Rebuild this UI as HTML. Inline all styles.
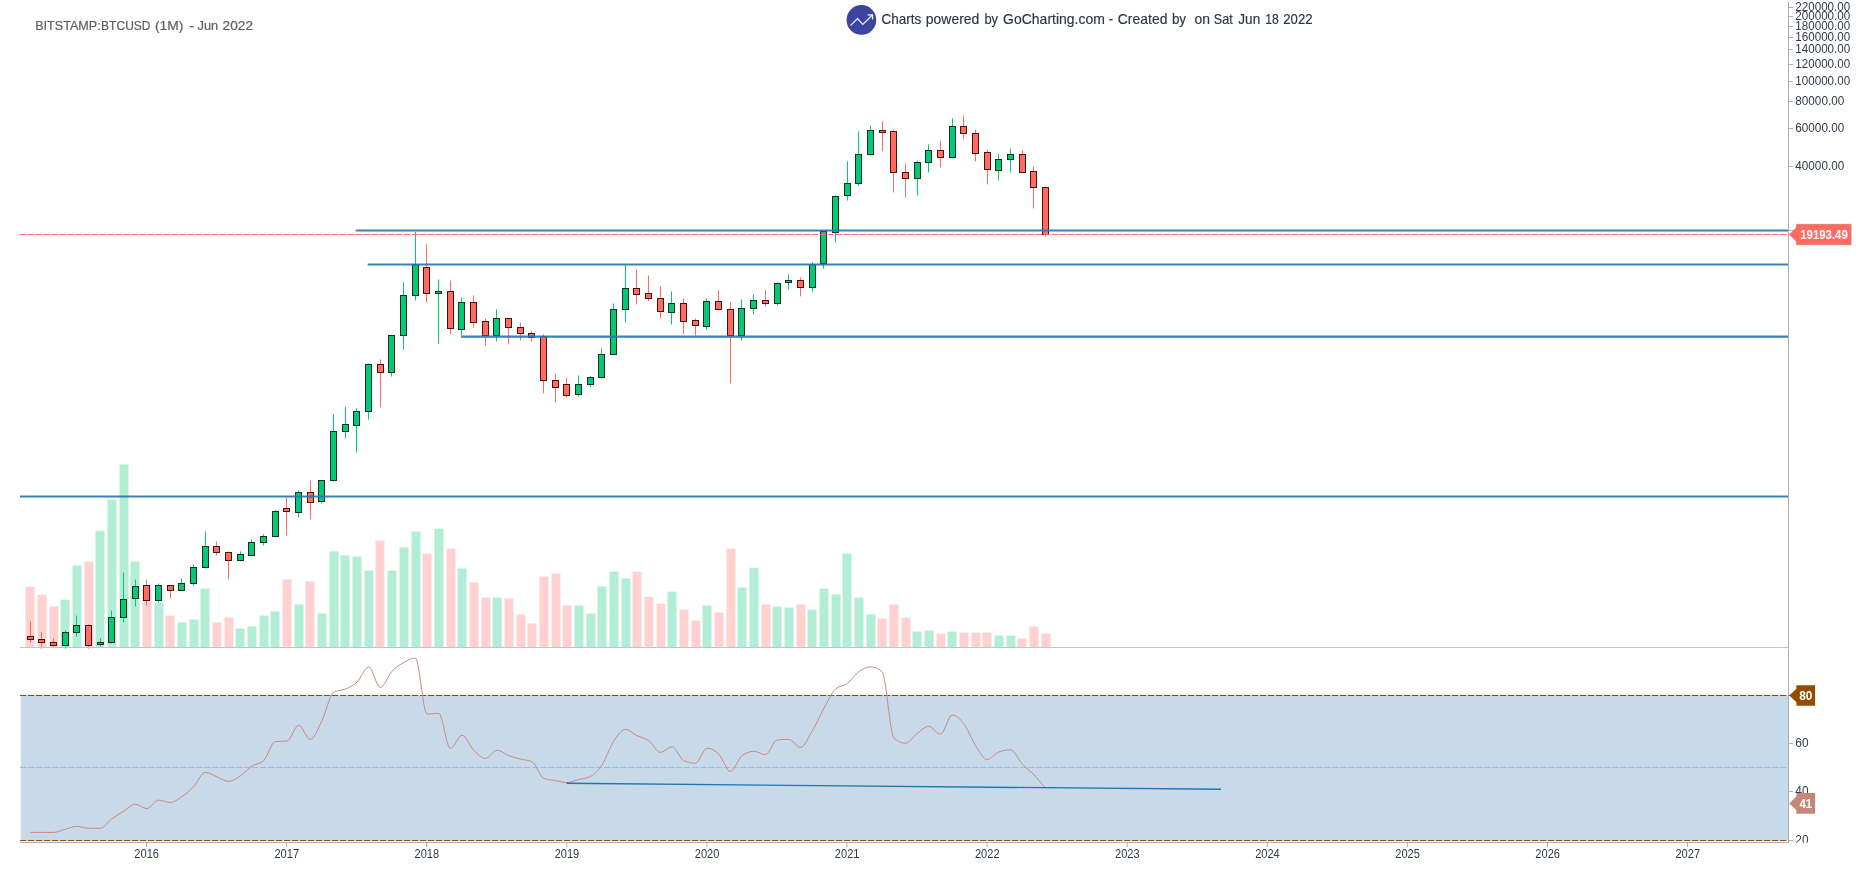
<!DOCTYPE html>
<html><head><meta charset="utf-8"><title>BTCUSD 1M</title>
<style>html,body{margin:0;padding:0;background:#fff;overflow:hidden}body{width:1863px;height:876px;font-family:"Liberation Sans",sans-serif}</style>
</head><body>
<svg width="1863" height="876" viewBox="0 0 1863 876" style="display:block;will-change:transform">
<rect x="0" y="0" width="1863" height="876" fill="#ffffff"/>
<rect x="20.8" y="695.5" width="1767.2" height="145" fill="#c8d9ea"/>
<g shape-rendering="auto"><rect x="25.5" y="586.83" width="9" height="60.37" fill="#ffd1cf"/><rect x="37.5" y="594.71" width="9" height="52.49" fill="#ffd1cf"/><rect x="49.5" y="606.53" width="9" height="40.67" fill="#ffd1cf"/><rect x="60.5" y="599.67" width="9" height="47.53" fill="#b2eed5"/><rect x="72.5" y="565.59" width="9" height="81.61" fill="#b2eed5"/><rect x="84.5" y="561.65" width="9" height="85.55" fill="#ffd1cf"/><rect x="95.5" y="530.83" width="9" height="116.37" fill="#b2eed5"/><rect x="107.5" y="499.6" width="9" height="147.6" fill="#b2eed5"/><rect x="119.5" y="464.4" width="9" height="182.8" fill="#b2eed5"/><rect x="130.5" y="561.65" width="9" height="85.55" fill="#b2eed5"/><rect x="142.5" y="589.06" width="9" height="58.14" fill="#ffd1cf"/><rect x="154.5" y="602.59" width="9" height="44.61" fill="#b2eed5"/><rect x="165.5" y="615.6" width="9" height="31.6" fill="#ffd1cf"/><rect x="177.5" y="622.45" width="9" height="24.75" fill="#b2eed5"/><rect x="189.5" y="619.54" width="9" height="27.66" fill="#b2eed5"/><rect x="200.5" y="588.54" width="9" height="58.66" fill="#b2eed5"/><rect x="212.5" y="622.45" width="9" height="24.75" fill="#ffd1cf"/><rect x="224.5" y="617.49" width="9" height="29.71" fill="#ffd1cf"/><rect x="235.5" y="628.45" width="9" height="18.75" fill="#b2eed5"/><rect x="247.5" y="626.39" width="9" height="20.81" fill="#b2eed5"/><rect x="259.5" y="615.6" width="9" height="31.6" fill="#b2eed5"/><rect x="270.5" y="611.49" width="9" height="35.71" fill="#b2eed5"/><rect x="282.5" y="579.47" width="9" height="67.73" fill="#ffd1cf"/><rect x="294.5" y="604.47" width="9" height="42.73" fill="#b2eed5"/><rect x="305.5" y="581.52" width="9" height="65.68" fill="#ffd1cf"/><rect x="317.5" y="613.55" width="9" height="33.65" fill="#b2eed5"/><rect x="329.5" y="551.38" width="9" height="95.82" fill="#b2eed5"/><rect x="340.5" y="555.49" width="9" height="91.71" fill="#b2eed5"/><rect x="352.5" y="556.52" width="9" height="90.68" fill="#b2eed5"/><rect x="364.5" y="570.56" width="9" height="76.64" fill="#b2eed5"/><rect x="375.5" y="540.59" width="9" height="106.61" fill="#ffd1cf"/><rect x="387.5" y="570.56" width="9" height="76.64" fill="#b2eed5"/><rect x="399.5" y="547.44" width="9" height="99.76" fill="#b2eed5"/><rect x="411.5" y="531.51" width="9" height="115.69" fill="#b2eed5"/><rect x="422.5" y="553.61" width="9" height="93.59" fill="#ffd1cf"/><rect x="434.5" y="528.6" width="9" height="118.6" fill="#b2eed5"/><rect x="446.5" y="548.64" width="9" height="98.56" fill="#ffd1cf"/><rect x="457.5" y="568.5" width="9" height="78.7" fill="#b2eed5"/><rect x="469.5" y="582.55" width="9" height="64.65" fill="#ffd1cf"/><rect x="481.5" y="597.62" width="9" height="49.58" fill="#ffd1cf"/><rect x="492.5" y="597.62" width="9" height="49.58" fill="#b2eed5"/><rect x="504.5" y="598.48" width="9" height="48.72" fill="#ffd1cf"/><rect x="516.5" y="614.4" width="9" height="32.8" fill="#ffd1cf"/><rect x="527.5" y="623.48" width="9" height="23.72" fill="#ffd1cf"/><rect x="539.5" y="576.55" width="9" height="70.65" fill="#ffd1cf"/><rect x="551.5" y="573.64" width="9" height="73.56" fill="#ffd1cf"/><rect x="562.5" y="605.5" width="9" height="41.7" fill="#ffd1cf"/><rect x="574.5" y="605.5" width="9" height="41.7" fill="#b2eed5"/><rect x="586.5" y="613.55" width="9" height="33.65" fill="#b2eed5"/><rect x="597.5" y="586.49" width="9" height="60.71" fill="#b2eed5"/><rect x="609.5" y="571.59" width="9" height="75.61" fill="#b2eed5"/><rect x="621.5" y="578.44" width="9" height="68.76" fill="#b2eed5"/><rect x="632.5" y="571.59" width="9" height="75.61" fill="#ffd1cf"/><rect x="644.5" y="596.76" width="9" height="50.44" fill="#ffd1cf"/><rect x="656.5" y="603.61" width="9" height="43.59" fill="#ffd1cf"/><rect x="667.5" y="591.63" width="9" height="55.57" fill="#b2eed5"/><rect x="679.5" y="609.61" width="9" height="37.59" fill="#ffd1cf"/><rect x="691.5" y="620.57" width="9" height="26.63" fill="#ffd1cf"/><rect x="702.5" y="605.5" width="9" height="41.7" fill="#b2eed5"/><rect x="714.5" y="612.52" width="9" height="34.68" fill="#ffd1cf"/><rect x="726.5" y="548.64" width="9" height="98.56" fill="#ffd1cf"/><rect x="737.5" y="587.51" width="9" height="59.69" fill="#b2eed5"/><rect x="749.5" y="567.65" width="9" height="79.55" fill="#b2eed5"/><rect x="761.5" y="604.47" width="9" height="42.73" fill="#ffd1cf"/><rect x="772.5" y="606.53" width="9" height="40.67" fill="#b2eed5"/><rect x="784.5" y="607.55" width="9" height="39.65" fill="#b2eed5"/><rect x="796.5" y="604.47" width="9" height="42.73" fill="#ffd1cf"/><rect x="807.5" y="609.61" width="9" height="37.59" fill="#b2eed5"/><rect x="819.5" y="588.54" width="9" height="58.66" fill="#b2eed5"/><rect x="831.5" y="594.54" width="9" height="52.66" fill="#b2eed5"/><rect x="842.5" y="553.61" width="9" height="93.59" fill="#b2eed5"/><rect x="854.5" y="597.62" width="9" height="49.58" fill="#b2eed5"/><rect x="866.5" y="614.4" width="9" height="32.8" fill="#b2eed5"/><rect x="877.5" y="618.57" width="9" height="28.63" fill="#ffd1cf"/><rect x="889.5" y="604.53" width="9" height="42.67" fill="#ffd1cf"/><rect x="901.5" y="617.54" width="9" height="29.66" fill="#ffd1cf"/><rect x="912.5" y="631.59" width="9" height="15.61" fill="#b2eed5"/><rect x="924.5" y="630.56" width="9" height="16.64" fill="#b2eed5"/><rect x="936.5" y="633.64" width="9" height="13.56" fill="#ffd1cf"/><rect x="947.5" y="631.59" width="9" height="15.61" fill="#b2eed5"/><rect x="959.5" y="632.62" width="9" height="14.58" fill="#ffd1cf"/><rect x="971.5" y="632.62" width="9" height="14.58" fill="#ffd1cf"/><rect x="982.5" y="632.62" width="9" height="14.58" fill="#ffd1cf"/><rect x="994.5" y="635.53" width="9" height="11.67" fill="#b2eed5"/><rect x="1006.5" y="635.53" width="9" height="11.67" fill="#b2eed5"/><rect x="1017.5" y="638.44" width="9" height="8.76" fill="#ffd1cf"/><rect x="1029.5" y="626.62" width="9" height="20.58" fill="#ffd1cf"/><rect x="1041.5" y="633.64" width="9" height="13.56" fill="#ffd1cf"/></g>
<g><line x1="30.5" y1="621.25" x2="30.5" y2="642.49" stroke="#ff6a61" stroke-width="1"/><rect x="27.5" y="636.5" width="6" height="3" fill="#ff6a61" stroke="#471310" stroke-width="1"/><line x1="41.5" y1="632.39" x2="41.5" y2="648.66" stroke="#ff6a61" stroke-width="1"/><rect x="38.5" y="639.5" width="6" height="3" fill="#ff6a61" stroke="#471310" stroke-width="1"/><line x1="53.5" y1="638.38" x2="53.5" y2="646.6" stroke="#ff6a61" stroke-width="1"/><rect x="50.5" y="642.5" width="6" height="3" fill="#ff6a61" stroke="#471310" stroke-width="1"/><line x1="65.5" y1="630.5" x2="65.5" y2="648.66" stroke="#02c977" stroke-width="1"/><rect x="62.5" y="632.5" width="6" height="13" fill="#02c977" stroke="#11301f" stroke-width="1"/><line x1="76.5" y1="615.6" x2="76.5" y2="636.5" stroke="#02c977" stroke-width="1"/><rect x="73.5" y="625.5" width="6" height="7" fill="#02c977" stroke="#11301f" stroke-width="1"/><line x1="88.5" y1="624.51" x2="88.5" y2="648.66" stroke="#ff6a61" stroke-width="1"/><rect x="85.5" y="625.5" width="6" height="20" fill="#ff6a61" stroke="#471310" stroke-width="1"/><line x1="100.5" y1="638.38" x2="100.5" y2="646.6" stroke="#02c977" stroke-width="1"/><rect x="97.5" y="642.5" width="6" height="2" fill="#02c977" stroke="#11301f" stroke-width="1"/><line x1="111.5" y1="610.46" x2="111.5" y2="643.52" stroke="#02c977" stroke-width="1"/><rect x="108.5" y="617.5" width="6" height="25" fill="#02c977" stroke="#11301f" stroke-width="1"/><line x1="123.5" y1="572.44" x2="123.5" y2="622.45" stroke="#02c977" stroke-width="1"/><rect x="120.5" y="599.5" width="6" height="18" fill="#02c977" stroke="#11301f" stroke-width="1"/><line x1="135.5" y1="579.47" x2="135.5" y2="606.53" stroke="#02c977" stroke-width="1"/><rect x="132.5" y="586.5" width="6" height="12" fill="#02c977" stroke="#11301f" stroke-width="1"/><line x1="146.5" y1="579.47" x2="146.5" y2="605.5" stroke="#ff6a61" stroke-width="1"/><rect x="143.5" y="585.5" width="6" height="15" fill="#ff6a61" stroke="#471310" stroke-width="1"/><line x1="158.5" y1="583.4" x2="158.5" y2="602.59" stroke="#02c977" stroke-width="1"/><rect x="155.5" y="585.5" width="6" height="15" fill="#02c977" stroke="#11301f" stroke-width="1"/><line x1="170.5" y1="585.46" x2="170.5" y2="598.48" stroke="#ff6a61" stroke-width="1"/><rect x="167.5" y="585.5" width="6" height="5" fill="#ff6a61" stroke="#471310" stroke-width="1"/><line x1="181.5" y1="578.44" x2="181.5" y2="590.43" stroke="#02c977" stroke-width="1"/><rect x="178.5" y="583.5" width="6" height="7" fill="#02c977" stroke="#11301f" stroke-width="1"/><line x1="193.5" y1="564.39" x2="193.5" y2="585.46" stroke="#02c977" stroke-width="1"/><rect x="190.5" y="567.5" width="6" height="16" fill="#02c977" stroke="#11301f" stroke-width="1"/><line x1="205.5" y1="531.34" x2="205.5" y2="568.5" stroke="#02c977" stroke-width="1"/><rect x="202.5" y="546.5" width="6" height="21" fill="#02c977" stroke="#11301f" stroke-width="1"/><line x1="216.5" y1="541.45" x2="216.5" y2="555.49" stroke="#ff6a61" stroke-width="1"/><rect x="213.5" y="546.5" width="6" height="6" fill="#ff6a61" stroke="#471310" stroke-width="1"/><line x1="228.5" y1="551.38" x2="228.5" y2="579.47" stroke="#ff6a61" stroke-width="1"/><rect x="225.5" y="552.5" width="6" height="8" fill="#ff6a61" stroke="#471310" stroke-width="1"/><line x1="240.5" y1="551.38" x2="240.5" y2="561.48" stroke="#02c977" stroke-width="1"/><rect x="237.5" y="554.5" width="6" height="6" fill="#02c977" stroke="#11301f" stroke-width="1"/><line x1="251.5" y1="539.39" x2="251.5" y2="555.49" stroke="#02c977" stroke-width="1"/><rect x="248.5" y="542.5" width="6" height="13" fill="#02c977" stroke="#11301f" stroke-width="1"/><line x1="263.5" y1="534.25" x2="263.5" y2="545.38" stroke="#02c977" stroke-width="1"/><rect x="260.5" y="536.5" width="6" height="6" fill="#02c977" stroke="#11301f" stroke-width="1"/><line x1="275.5" y1="510.28" x2="275.5" y2="536.31" stroke="#02c977" stroke-width="1"/><rect x="272.5" y="511.5" width="6" height="25" fill="#02c977" stroke="#11301f" stroke-width="1"/><line x1="286.5" y1="497.42" x2="286.5" y2="535.61" stroke="#ff6a61" stroke-width="1"/><rect x="283.5" y="508.5" width="6" height="3" fill="#ff6a61" stroke="#471310" stroke-width="1"/><line x1="298.5" y1="490.4" x2="298.5" y2="517.63" stroke="#02c977" stroke-width="1"/><rect x="295.5" y="492.5" width="6" height="20" fill="#02c977" stroke="#11301f" stroke-width="1"/><line x1="310.5" y1="480.46" x2="310.5" y2="519.34" stroke="#ff6a61" stroke-width="1"/><rect x="307.5" y="492.5" width="6" height="10" fill="#ff6a61" stroke="#471310" stroke-width="1"/><line x1="321.5" y1="480.46" x2="321.5" y2="503.58" stroke="#02c977" stroke-width="1"/><rect x="318.5" y="480.5" width="6" height="21" fill="#02c977" stroke="#11301f" stroke-width="1"/><line x1="333.5" y1="414.36" x2="333.5" y2="481.49" stroke="#02c977" stroke-width="1"/><rect x="330.5" y="431.5" width="6" height="49" fill="#02c977" stroke="#11301f" stroke-width="1"/><line x1="345.5" y1="406.99" x2="345.5" y2="438.5" stroke="#02c977" stroke-width="1"/><rect x="342.5" y="424.5" width="6" height="7" fill="#02c977" stroke="#11301f" stroke-width="1"/><line x1="356.5" y1="408.36" x2="356.5" y2="452.55" stroke="#02c977" stroke-width="1"/><rect x="353.5" y="411.5" width="6" height="14" fill="#02c977" stroke="#11301f" stroke-width="1"/><line x1="368.5" y1="363.38" x2="368.5" y2="419.73" stroke="#02c977" stroke-width="1"/><rect x="365.5" y="364.5" width="6" height="47" fill="#02c977" stroke="#11301f" stroke-width="1"/><line x1="380.5" y1="359.44" x2="380.5" y2="407.22" stroke="#ff6a61" stroke-width="1"/><rect x="377.5" y="364.5" width="6" height="8" fill="#ff6a61" stroke="#471310" stroke-width="1"/><line x1="391.5" y1="335.46" x2="391.5" y2="376.57" stroke="#02c977" stroke-width="1"/><rect x="388.5" y="335.5" width="6" height="37" fill="#02c977" stroke="#11301f" stroke-width="1"/><line x1="403.5" y1="282.37" x2="403.5" y2="349.51" stroke="#02c977" stroke-width="1"/><rect x="400.5" y="295.5" width="6" height="40" fill="#02c977" stroke="#11301f" stroke-width="1"/><line x1="415.5" y1="231.85" x2="415.5" y2="300.53" stroke="#02c977" stroke-width="1"/><rect x="412.5" y="264.5" width="6" height="31" fill="#02c977" stroke="#11301f" stroke-width="1"/><line x1="426.5" y1="244.35" x2="426.5" y2="302.41" stroke="#ff6a61" stroke-width="1"/><rect x="423.5" y="267.5" width="6" height="26" fill="#ff6a61" stroke="#471310" stroke-width="1"/><line x1="438.5" y1="279.46" x2="438.5" y2="343.51" stroke="#02c977" stroke-width="1"/><rect x="435.5" y="291.5" width="6" height="2" fill="#02c977" stroke="#11301f" stroke-width="1"/><line x1="450.5" y1="280.49" x2="450.5" y2="334.09" stroke="#ff6a61" stroke-width="1"/><rect x="447.5" y="291.5" width="6" height="37" fill="#ff6a61" stroke="#471310" stroke-width="1"/><line x1="461.5" y1="297.44" x2="461.5" y2="335.46" stroke="#02c977" stroke-width="1"/><rect x="458.5" y="302.5" width="6" height="27" fill="#02c977" stroke="#11301f" stroke-width="1"/><line x1="473.5" y1="295.39" x2="473.5" y2="327.59" stroke="#ff6a61" stroke-width="1"/><rect x="470.5" y="302.5" width="6" height="20" fill="#ff6a61" stroke="#471310" stroke-width="1"/><line x1="485.5" y1="318.51" x2="485.5" y2="345.57" stroke="#ff6a61" stroke-width="1"/><rect x="482.5" y="321.5" width="6" height="14" fill="#ff6a61" stroke="#471310" stroke-width="1"/><line x1="496.5" y1="309.43" x2="496.5" y2="341.46" stroke="#02c977" stroke-width="1"/><rect x="493.5" y="318.5" width="6" height="17" fill="#02c977" stroke="#11301f" stroke-width="1"/><line x1="508.5" y1="318.51" x2="508.5" y2="344.37" stroke="#ff6a61" stroke-width="1"/><rect x="505.5" y="318.5" width="6" height="9" fill="#ff6a61" stroke="#471310" stroke-width="1"/><line x1="520.5" y1="322.62" x2="520.5" y2="340.43" stroke="#ff6a61" stroke-width="1"/><rect x="517.5" y="327.5" width="6" height="6" fill="#ff6a61" stroke="#471310" stroke-width="1"/><line x1="531.5" y1="331.53" x2="531.5" y2="341.46" stroke="#ff6a61" stroke-width="1"/><rect x="528.5" y="333.5" width="6" height="4" fill="#ff6a61" stroke="#471310" stroke-width="1"/><line x1="543.5" y1="334.39" x2="543.5" y2="393.48" stroke="#ff6a61" stroke-width="1"/><rect x="540.5" y="336.5" width="6" height="44" fill="#ff6a61" stroke="#471310" stroke-width="1"/><line x1="555.5" y1="373.44" x2="555.5" y2="402.56" stroke="#ff6a61" stroke-width="1"/><rect x="552.5" y="380.5" width="6" height="7" fill="#ff6a61" stroke="#471310" stroke-width="1"/><line x1="566.5" y1="377.55" x2="566.5" y2="397.59" stroke="#ff6a61" stroke-width="1"/><rect x="563.5" y="384.5" width="6" height="11" fill="#ff6a61" stroke="#471310" stroke-width="1"/><line x1="578.5" y1="375.5" x2="578.5" y2="396.56" stroke="#02c977" stroke-width="1"/><rect x="575.5" y="384.5" width="6" height="10" fill="#02c977" stroke="#11301f" stroke-width="1"/><line x1="590.5" y1="376.18" x2="590.5" y2="387.49" stroke="#02c977" stroke-width="1"/><rect x="587.5" y="377.5" width="6" height="7" fill="#02c977" stroke="#11301f" stroke-width="1"/><line x1="601.5" y1="348.44" x2="601.5" y2="378.58" stroke="#02c977" stroke-width="1"/><rect x="598.5" y="354.5" width="6" height="23" fill="#02c977" stroke="#11301f" stroke-width="1"/><line x1="613.5" y1="303.4" x2="613.5" y2="354.43" stroke="#02c977" stroke-width="1"/><rect x="610.5" y="309.5" width="6" height="45" fill="#02c977" stroke="#11301f" stroke-width="1"/><line x1="625.5" y1="264.69" x2="625.5" y2="322.41" stroke="#02c977" stroke-width="1"/><rect x="622.5" y="288.5" width="6" height="21" fill="#02c977" stroke="#11301f" stroke-width="1"/><line x1="636.5" y1="269.49" x2="636.5" y2="304.42" stroke="#ff6a61" stroke-width="1"/><rect x="633.5" y="288.5" width="6" height="6" fill="#ff6a61" stroke="#471310" stroke-width="1"/><line x1="648.5" y1="275.48" x2="648.5" y2="301.34" stroke="#ff6a61" stroke-width="1"/><rect x="645.5" y="293.5" width="6" height="5" fill="#ff6a61" stroke="#471310" stroke-width="1"/><line x1="660.5" y1="286.44" x2="660.5" y2="318.47" stroke="#ff6a61" stroke-width="1"/><rect x="657.5" y="298.5" width="6" height="13" fill="#ff6a61" stroke="#471310" stroke-width="1"/><line x1="671.5" y1="291.41" x2="671.5" y2="324.46" stroke="#02c977" stroke-width="1"/><rect x="668.5" y="303.5" width="6" height="9" fill="#02c977" stroke="#11301f" stroke-width="1"/><line x1="683.5" y1="298.43" x2="683.5" y2="334.39" stroke="#ff6a61" stroke-width="1"/><rect x="680.5" y="303.5" width="6" height="18" fill="#ff6a61" stroke="#471310" stroke-width="1"/><line x1="695.5" y1="318.47" x2="695.5" y2="335.42" stroke="#ff6a61" stroke-width="1"/><rect x="692.5" y="320.5" width="6" height="5" fill="#ff6a61" stroke="#471310" stroke-width="1"/><line x1="706.5" y1="298.43" x2="706.5" y2="329.43" stroke="#02c977" stroke-width="1"/><rect x="703.5" y="301.5" width="6" height="25" fill="#02c977" stroke="#11301f" stroke-width="1"/><line x1="718.5" y1="290.38" x2="718.5" y2="310.42" stroke="#ff6a61" stroke-width="1"/><rect x="715.5" y="301.5" width="6" height="8" fill="#ff6a61" stroke="#471310" stroke-width="1"/><line x1="730.5" y1="302.37" x2="730.5" y2="383.38" stroke="#ff6a61" stroke-width="1"/><rect x="727.5" y="309.5" width="6" height="26" fill="#ff6a61" stroke="#471310" stroke-width="1"/><line x1="741.5" y1="299.46" x2="741.5" y2="340.56" stroke="#02c977" stroke-width="1"/><rect x="738.5" y="308.5" width="6" height="27" fill="#02c977" stroke="#11301f" stroke-width="1"/><line x1="753.5" y1="294.49" x2="753.5" y2="314.53" stroke="#02c977" stroke-width="1"/><rect x="750.5" y="300.5" width="6" height="8" fill="#02c977" stroke="#11301f" stroke-width="1"/><line x1="765.5" y1="290.38" x2="765.5" y2="306.48" stroke="#ff6a61" stroke-width="1"/><rect x="762.5" y="300.5" width="6" height="3" fill="#ff6a61" stroke="#471310" stroke-width="1"/><line x1="777.5" y1="282.33" x2="777.5" y2="305.45" stroke="#02c977" stroke-width="1"/><rect x="774.5" y="283.5" width="6" height="20" fill="#02c977" stroke="#11301f" stroke-width="1"/><line x1="788.5" y1="274.45" x2="788.5" y2="289.35" stroke="#02c977" stroke-width="1"/><rect x="785.5" y="280.5" width="6" height="2" fill="#02c977" stroke="#11301f" stroke-width="1"/><line x1="800.5" y1="277.36" x2="800.5" y2="296.37" stroke="#ff6a61" stroke-width="1"/><rect x="797.5" y="280.5" width="6" height="7" fill="#ff6a61" stroke="#471310" stroke-width="1"/><line x1="812.5" y1="262.28" x2="812.5" y2="291.62" stroke="#02c977" stroke-width="1"/><rect x="809.5" y="264.5" width="6" height="23" fill="#02c977" stroke="#11301f" stroke-width="1"/><line x1="823.5" y1="231.23" x2="823.5" y2="268.79" stroke="#02c977" stroke-width="1"/><rect x="820.5" y="231.5" width="6" height="32" fill="#02c977" stroke="#11301f" stroke-width="1"/><line x1="835.5" y1="195.43" x2="835.5" y2="242.52" stroke="#02c977" stroke-width="1"/><rect x="832.5" y="196.5" width="6" height="36" fill="#02c977" stroke="#11301f" stroke-width="1"/><line x1="847.5" y1="161.35" x2="847.5" y2="200.56" stroke="#02c977" stroke-width="1"/><rect x="844.5" y="183.5" width="6" height="12" fill="#02c977" stroke="#11301f" stroke-width="1"/><line x1="858.5" y1="131.37" x2="858.5" y2="185.49" stroke="#02c977" stroke-width="1"/><rect x="855.5" y="154.5" width="6" height="29" fill="#02c977" stroke="#11301f" stroke-width="1"/><line x1="870.5" y1="125.38" x2="870.5" y2="155.69" stroke="#02c977" stroke-width="1"/><rect x="867.5" y="130.5" width="6" height="24" fill="#02c977" stroke="#11301f" stroke-width="1"/><line x1="882.5" y1="121.44" x2="882.5" y2="151.41" stroke="#ff6a61" stroke-width="1"/><rect x="879.5" y="130.5" width="6" height="2" fill="#ff6a61" stroke="#471310" stroke-width="1"/><line x1="893.5" y1="129.49" x2="893.5" y2="192.51" stroke="#ff6a61" stroke-width="1"/><rect x="890.5" y="131.5" width="6" height="41" fill="#ff6a61" stroke="#471310" stroke-width="1"/><line x1="905.5" y1="163.57" x2="905.5" y2="197.48" stroke="#ff6a61" stroke-width="1"/><rect x="902.5" y="172.5" width="6" height="6" fill="#ff6a61" stroke="#471310" stroke-width="1"/><line x1="917.5" y1="160.49" x2="917.5" y2="195.43" stroke="#02c977" stroke-width="1"/><rect x="914.5" y="162.5" width="6" height="16" fill="#02c977" stroke="#11301f" stroke-width="1"/><line x1="928.5" y1="144.39" x2="928.5" y2="172.48" stroke="#02c977" stroke-width="1"/><rect x="925.5" y="150.5" width="6" height="12" fill="#02c977" stroke="#11301f" stroke-width="1"/><line x1="940.5" y1="140.45" x2="940.5" y2="167.51" stroke="#ff6a61" stroke-width="1"/><rect x="937.5" y="150.5" width="6" height="7" fill="#ff6a61" stroke="#471310" stroke-width="1"/><line x1="952.5" y1="118.36" x2="952.5" y2="158.43" stroke="#02c977" stroke-width="1"/><rect x="949.5" y="126.5" width="6" height="31" fill="#02c977" stroke="#11301f" stroke-width="1"/><line x1="963.5" y1="115.45" x2="963.5" y2="139.42" stroke="#ff6a61" stroke-width="1"/><rect x="960.5" y="126.5" width="6" height="7" fill="#ff6a61" stroke="#471310" stroke-width="1"/><line x1="975.5" y1="129.49" x2="975.5" y2="161.35" stroke="#ff6a61" stroke-width="1"/><rect x="972.5" y="133.5" width="6" height="20" fill="#ff6a61" stroke="#471310" stroke-width="1"/><line x1="987.5" y1="149.53" x2="987.5" y2="184.47" stroke="#ff6a61" stroke-width="1"/><rect x="984.5" y="152.5" width="6" height="17" fill="#ff6a61" stroke="#471310" stroke-width="1"/><line x1="998.5" y1="153.47" x2="998.5" y2="180.53" stroke="#02c977" stroke-width="1"/><rect x="995.5" y="159.5" width="6" height="11" fill="#02c977" stroke="#11301f" stroke-width="1"/><line x1="1010.5" y1="148.5" x2="1010.5" y2="172.48" stroke="#02c977" stroke-width="1"/><rect x="1007.5" y="154.5" width="6" height="5" fill="#02c977" stroke="#11301f" stroke-width="1"/><line x1="1022.5" y1="150.38" x2="1022.5" y2="172.48" stroke="#ff6a61" stroke-width="1"/><rect x="1019.5" y="154.5" width="6" height="18" fill="#ff6a61" stroke="#471310" stroke-width="1"/><line x1="1033.5" y1="166.48" x2="1033.5" y2="208.44" stroke="#ff6a61" stroke-width="1"/><rect x="1030.5" y="171.5" width="6" height="16" fill="#ff6a61" stroke="#471310" stroke-width="1"/><line x1="1045.5" y1="186.52" x2="1045.5" y2="236.53" stroke="#ff6a61" stroke-width="1"/><rect x="1042.5" y="187.5" width="6" height="47" fill="#ff6a61" stroke="#471310" stroke-width="1"/></g>
<line x1="20" y1="647.5" x2="1788" y2="647.5" stroke="#b7c5d8" stroke-width="1.1"/>
<line x1="355.7" y1="230.5" x2="1788" y2="230.5" stroke="#2677b6" stroke-width="2.1" stroke-opacity="0.92"/>
<line x1="367.7" y1="264.5" x2="1788" y2="264.5" stroke="#2677b6" stroke-width="2.1" stroke-opacity="0.92"/>
<line x1="461" y1="336.6" x2="1788" y2="336.6" stroke="#2677b6" stroke-width="2.1" stroke-opacity="0.92"/>
<line x1="20" y1="496.5" x2="1788" y2="496.5" stroke="#2677b6" stroke-width="2.1" stroke-opacity="0.92"/>
<line x1="20" y1="234.5" x2="1788" y2="234.5" stroke="#ff6a61" stroke-width="1" stroke-dasharray="6.3 1.7"/>
<line x1="20" y1="695.5" x2="1788" y2="695.5" stroke="#964b00" stroke-width="1.1" stroke-dasharray="6.35 1.65"/>
<line x1="20" y1="840.5" x2="1788" y2="840.5" stroke="#964b00" stroke-width="1.1" stroke-dasharray="6.35 1.65"/>
<line x1="20" y1="767.5" x2="1788" y2="767.5" stroke="#9db8ea" stroke-width="1" stroke-dasharray="6.35 1.65"/>
<path d="M30.26,832.43C34.15,832.43 38.04,832.43 41.93,832.43C45.82,832.43 49.71,832.43 53.6,832.43C57.49,832.43 61.38,830.19 65.27,829.18C69.16,828.16 73.05,826.36 76.94,826.36C80.83,826.36 84.72,828.31 88.61,828.31C92.5,828.31 96.39,828.31 100.28,828.31C104.17,828.31 108.06,821.62 111.95,818.76C115.84,815.91 119.73,813.59 123.62,811.17C127.51,808.75 131.4,804.23 135.29,804.23C139.18,804.23 143.07,808.57 146.95,808.57C150.84,808.57 154.73,800.11 158.62,800.11C162.51,800.11 166.4,802.49 170.29,802.49C174.18,802.49 178.07,799.28 181.96,796.64C185.85,794 189.74,790.71 193.63,786.66C197.52,782.61 201.41,772.34 205.3,772.34C209.19,772.34 213.08,775.38 216.97,776.9C220.86,778.42 224.75,781.45 228.64,781.45C232.53,781.45 236.42,778.38 240.31,775.81C244.2,773.25 248.09,768.58 251.98,766.05C255.87,763.52 259.76,764.24 263.65,760.63C267.54,757.01 271.43,741.83 275.32,741.54C279.21,741.25 283.1,741.4 286.99,741.11C290.88,740.82 294.77,725.27 298.66,725.27C302.55,725.27 306.44,739.37 310.33,739.37C314.22,739.37 318.11,728.34 322,720.5C325.89,712.65 329.78,694.47 333.67,692.3C337.56,690.13 341.45,690.74 345.34,689.05C349.23,687.35 353.12,685.79 357.01,682.1C360.9,678.42 364.79,666.92 368.68,666.92C372.57,666.92 376.46,687.53 380.35,687.53C384.23,687.53 388.12,675.42 392.01,671.26C395.9,667.1 399.79,664.79 403.68,662.58C407.57,660.38 411.46,658.03 415.35,658.03C419.24,658.03 423.13,713.99 427.02,713.99C430.91,713.99 434.8,713.34 438.69,713.34C442.58,713.34 446.47,748.26 450.36,748.26C454.25,748.26 458.14,735.25 462.03,735.25C465.92,735.25 469.81,746.35 473.7,750.22C477.59,754.09 481.48,758.46 485.37,758.46C489.26,758.46 493.15,750.22 497.04,750.22C500.93,750.22 504.82,754.16 508.71,755.64C512.6,757.12 516.49,758.1 520.38,759.11C524.27,760.12 528.16,759.98 532.05,761.71C535.94,763.45 539.83,776.97 543.72,778.42C547.61,779.86 551.5,779.9 555.39,780.59C559.28,781.27 563.17,782.54 567.06,782.54C570.95,782.54 574.84,780.51 578.73,779.5C582.62,778.49 586.51,778.49 590.4,776.46C594.29,774.44 598.18,770.86 602.07,764.97C605.96,759.07 609.85,747.04 613.73,741.11C617.62,735.18 621.51,729.39 625.4,729.39C629.29,729.39 633.18,733.8 637.07,735.68C640.96,737.56 644.85,737.89 648.74,740.67C652.63,743.46 656.52,752.39 660.41,752.39C664.3,752.39 668.19,746.75 672.08,746.75C675.97,746.75 679.86,758.89 683.75,760.63C687.64,762.36 691.53,763.23 695.42,763.23C699.31,763.23 703.2,748.26 707.09,748.26C710.98,748.26 714.87,750.25 718.76,754.12C722.65,757.99 726.54,771.48 730.43,771.48C734.32,771.48 738.21,758.53 742.1,755.64C745.99,752.75 749.88,751.3 753.77,751.3C757.66,751.3 761.55,754.56 765.44,754.56C769.33,754.56 773.22,740.46 777.11,740.02C781,739.59 784.89,739.37 788.78,739.37C792.67,739.37 796.56,747.4 800.45,747.4C804.34,747.4 808.23,737.82 812.12,731.34C816.01,724.87 819.9,715.62 823.79,708.57C827.68,701.52 831.57,692.66 835.46,689.05C839.35,685.43 843.24,686.51 847.12,683.62C851.01,680.73 854.9,674.48 858.79,671.69C862.68,668.91 866.57,666.92 870.46,666.92C874.35,666.92 878.24,668.51 882.13,671.69C886.02,674.87 889.91,734.24 893.8,737.85C897.69,741.47 901.58,743.28 905.47,743.28C909.36,743.28 913.25,736.33 917.14,733.51C921.03,730.69 924.92,726.36 928.81,726.36C932.7,726.36 936.59,734.16 940.48,734.16C944.37,734.16 948.26,715.08 952.15,715.08C956.04,715.08 959.93,718.69 963.82,723.75C967.71,728.81 971.6,739.48 975.49,745.44C979.38,751.41 983.27,759.54 987.16,759.54C991.05,759.54 994.94,753.4 998.83,751.95C1002.72,750.51 1006.61,749.78 1010.5,749.78C1014.39,749.78 1018.28,759.73 1022.17,763.88C1026.06,768.04 1029.95,770.68 1033.84,774.73C1037.73,778.78 1041.62,783.48 1045.51,788.18" fill="none" stroke="#c98a80" stroke-width="1"/>
<line x1="566.6" y1="783.3" x2="1221" y2="789.3" stroke="#1f77b4" stroke-width="1.4"/>
<line x1="1788.5" y1="2" x2="1788.5" y2="648" stroke="#a9aeb9" stroke-width="1"/>
<line x1="1788.5" y1="649" x2="1788.5" y2="843" stroke="#a9aeb9" stroke-width="1"/>
<line x1="1788.5" y1="695.5" x2="1793" y2="695.5" stroke="#6d5a4a" stroke-width="1"/>
<line x1="20.3" y1="842.5" x2="1789" y2="842.5" stroke="#a9aeb9" stroke-width="1"/>
<line x1="1788.5" y1="7.5" x2="1793" y2="7.5" stroke="#a9aeb9" stroke-width="1"/>
<text x="1795.3" y="11" font-family="Liberation Sans, sans-serif" font-size="12.5" fill="#333a48" textLength="54.9" lengthAdjust="spacingAndGlyphs">220000.00</text>
<line x1="1788.5" y1="16.5" x2="1793" y2="16.5" stroke="#a9aeb9" stroke-width="1"/>
<text x="1795.3" y="20" font-family="Liberation Sans, sans-serif" font-size="12.5" fill="#333a48" textLength="54.9" lengthAdjust="spacingAndGlyphs">200000.00</text>
<line x1="1788.5" y1="26.5" x2="1793" y2="26.5" stroke="#a9aeb9" stroke-width="1"/>
<text x="1795.3" y="30" font-family="Liberation Sans, sans-serif" font-size="12.5" fill="#333a48" textLength="54.9" lengthAdjust="spacingAndGlyphs">180000.00</text>
<line x1="1788.5" y1="37.5" x2="1793" y2="37.5" stroke="#a9aeb9" stroke-width="1"/>
<text x="1795.3" y="41" font-family="Liberation Sans, sans-serif" font-size="12.5" fill="#333a48" textLength="54.9" lengthAdjust="spacingAndGlyphs">160000.00</text>
<line x1="1788.5" y1="49.5" x2="1793" y2="49.5" stroke="#a9aeb9" stroke-width="1"/>
<text x="1795.3" y="53" font-family="Liberation Sans, sans-serif" font-size="12.5" fill="#333a48" textLength="54.9" lengthAdjust="spacingAndGlyphs">140000.00</text>
<line x1="1788.5" y1="64.5" x2="1793" y2="64.5" stroke="#a9aeb9" stroke-width="1"/>
<text x="1795.3" y="68" font-family="Liberation Sans, sans-serif" font-size="12.5" fill="#333a48" textLength="54.9" lengthAdjust="spacingAndGlyphs">120000.00</text>
<line x1="1788.5" y1="81.5" x2="1793" y2="81.5" stroke="#a9aeb9" stroke-width="1"/>
<text x="1795.3" y="85" font-family="Liberation Sans, sans-serif" font-size="12.5" fill="#333a48" textLength="54.9" lengthAdjust="spacingAndGlyphs">100000.00</text>
<line x1="1788.5" y1="101.5" x2="1793" y2="101.5" stroke="#a9aeb9" stroke-width="1"/>
<text x="1795.3" y="105" font-family="Liberation Sans, sans-serif" font-size="12.5" fill="#333a48" textLength="48.9" lengthAdjust="spacingAndGlyphs">80000.00</text>
<line x1="1788.5" y1="128.5" x2="1793" y2="128.5" stroke="#a9aeb9" stroke-width="1"/>
<text x="1795.3" y="132" font-family="Liberation Sans, sans-serif" font-size="12.5" fill="#333a48" textLength="48.9" lengthAdjust="spacingAndGlyphs">60000.00</text>
<line x1="1788.5" y1="166.5" x2="1793" y2="166.5" stroke="#a9aeb9" stroke-width="1"/>
<text x="1795.3" y="170" font-family="Liberation Sans, sans-serif" font-size="12.5" fill="#333a48" textLength="48.9" lengthAdjust="spacingAndGlyphs">40000.00</text>
<line x1="1788.5" y1="230.5" x2="1793" y2="230.5" stroke="#a9aeb9" stroke-width="1"/>
<clipPath id="cl"><rect x="1780" y="640" width="83" height="202.8"/></clipPath>
<g clip-path="url(#cl)"><line x1="1788.5" y1="743.5" x2="1793" y2="743.5" stroke="#a9aeb9" stroke-width="1"/><text x="1795.3" y="747" font-family="Liberation Sans, sans-serif" font-size="12.5" fill="#333a48" textLength="13.2" lengthAdjust="spacingAndGlyphs">60</text><line x1="1788.5" y1="791.5" x2="1793" y2="791.5" stroke="#a9aeb9" stroke-width="1"/><text x="1795.3" y="795" font-family="Liberation Sans, sans-serif" font-size="12.5" fill="#333a48" textLength="13.2" lengthAdjust="spacingAndGlyphs">40</text><line x1="1788.5" y1="840.5" x2="1793" y2="840.5" stroke="#a9aeb9" stroke-width="1"/><text x="1795.3" y="844" font-family="Liberation Sans, sans-serif" font-size="12.5" fill="#333a48" textLength="13.2" lengthAdjust="spacingAndGlyphs">20</text></g>
<line x1="146.45" y1="842" x2="146.45" y2="847" stroke="#a9aeb9" stroke-width="1"/>
<text x="134.35" y="858" font-family="Liberation Sans, sans-serif" font-size="12.6" fill="#333a48" textLength="24.6" lengthAdjust="spacingAndGlyphs">2016</text>
<line x1="286.55" y1="842" x2="286.55" y2="847" stroke="#a9aeb9" stroke-width="1"/>
<text x="274.45" y="858" font-family="Liberation Sans, sans-serif" font-size="12.6" fill="#333a48" textLength="24.6" lengthAdjust="spacingAndGlyphs">2017</text>
<line x1="426.65" y1="842" x2="426.65" y2="847" stroke="#a9aeb9" stroke-width="1"/>
<text x="414.55" y="858" font-family="Liberation Sans, sans-serif" font-size="12.6" fill="#333a48" textLength="24.6" lengthAdjust="spacingAndGlyphs">2018</text>
<line x1="566.75" y1="842" x2="566.75" y2="847" stroke="#a9aeb9" stroke-width="1"/>
<text x="554.65" y="858" font-family="Liberation Sans, sans-serif" font-size="12.6" fill="#333a48" textLength="24.6" lengthAdjust="spacingAndGlyphs">2019</text>
<line x1="706.85" y1="842" x2="706.85" y2="847" stroke="#a9aeb9" stroke-width="1"/>
<text x="694.75" y="858" font-family="Liberation Sans, sans-serif" font-size="12.6" fill="#333a48" textLength="24.6" lengthAdjust="spacingAndGlyphs">2020</text>
<line x1="846.95" y1="842" x2="846.95" y2="847" stroke="#a9aeb9" stroke-width="1"/>
<text x="834.85" y="858" font-family="Liberation Sans, sans-serif" font-size="12.6" fill="#333a48" textLength="24.6" lengthAdjust="spacingAndGlyphs">2021</text>
<line x1="987.05" y1="842" x2="987.05" y2="847" stroke="#a9aeb9" stroke-width="1"/>
<text x="974.95" y="858" font-family="Liberation Sans, sans-serif" font-size="12.6" fill="#333a48" textLength="24.6" lengthAdjust="spacingAndGlyphs">2022</text>
<line x1="1127.15" y1="842" x2="1127.15" y2="847" stroke="#a9aeb9" stroke-width="1"/>
<text x="1115.05" y="858" font-family="Liberation Sans, sans-serif" font-size="12.6" fill="#333a48" textLength="24.6" lengthAdjust="spacingAndGlyphs">2023</text>
<line x1="1267.25" y1="842" x2="1267.25" y2="847" stroke="#a9aeb9" stroke-width="1"/>
<text x="1255.15" y="858" font-family="Liberation Sans, sans-serif" font-size="12.6" fill="#333a48" textLength="24.6" lengthAdjust="spacingAndGlyphs">2024</text>
<line x1="1407.35" y1="842" x2="1407.35" y2="847" stroke="#a9aeb9" stroke-width="1"/>
<text x="1395.25" y="858" font-family="Liberation Sans, sans-serif" font-size="12.6" fill="#333a48" textLength="24.6" lengthAdjust="spacingAndGlyphs">2025</text>
<line x1="1547.45" y1="842" x2="1547.45" y2="847" stroke="#a9aeb9" stroke-width="1"/>
<text x="1535.35" y="858" font-family="Liberation Sans, sans-serif" font-size="12.6" fill="#333a48" textLength="24.6" lengthAdjust="spacingAndGlyphs">2026</text>
<line x1="1687.55" y1="842" x2="1687.55" y2="847" stroke="#a9aeb9" stroke-width="1"/>
<text x="1675.45" y="858" font-family="Liberation Sans, sans-serif" font-size="12.6" fill="#333a48" textLength="24.6" lengthAdjust="spacingAndGlyphs">2027</text>
<polygon points="1789.3,234.5 1796.4,227.7 1796.4,224.3 1851.1,224.3 1851.1,244.8 1796.4,244.8 1796.4,241.3" fill="#ff6a61" stroke="#b9826a" stroke-width="0.6"/><text x="1800.2" y="238.9" font-family="Liberation Sans, sans-serif" font-size="12.2" font-weight="bold" fill="#ffffff" textLength="47.6" lengthAdjust="spacingAndGlyphs">19193.49</text>
<polygon points="1789.3,695.5 1796.4,688.7 1796.4,685.2 1815.1,685.2 1815.1,705.7 1796.4,705.7 1796.4,702.3" fill="#964b00"/><text x="1799.2" y="699.9" font-family="Liberation Sans, sans-serif" font-size="12.2" font-weight="bold" fill="#ffffff" textLength="13.2" lengthAdjust="spacingAndGlyphs">80</text>
<polygon points="1789.3,803.4 1796.4,796.6 1796.4,793 1815.1,793 1815.1,813.7 1796.4,813.7 1796.4,810.2" fill="#c4877a"/><text x="1799.4" y="807.8" font-family="Liberation Sans, sans-serif" font-size="12.2" font-weight="bold" fill="#ffffff" textLength="12.9" lengthAdjust="spacingAndGlyphs">41</text>
<text x="35.15" y="30" font-family="Liberation Sans, sans-serif" font-size="12.5" fill="#5c5d66" stroke="#5c5d66" stroke-width="0.2" textLength="65.55" lengthAdjust="spacingAndGlyphs">BITSTAMP:</text>
<text x="101.1" y="30" font-family="Liberation Sans, sans-serif" font-size="12.5" fill="#5c5d66" stroke="#5c5d66" stroke-width="0.2" textLength="49.46" lengthAdjust="spacingAndGlyphs">BTCUSD</text>
<text x="154.96" y="30" font-family="Liberation Sans, sans-serif" font-size="12.5" fill="#5c5d66" stroke="#5c5d66" stroke-width="0.2" textLength="28.44" lengthAdjust="spacingAndGlyphs">(1M)</text>
<text x="189.1" y="30" font-family="Liberation Sans, sans-serif" font-size="12.5" fill="#5c5d66" stroke="#5c5d66" stroke-width="0.2" textLength="5.26" lengthAdjust="spacingAndGlyphs">-</text>
<text x="197.5" y="30" font-family="Liberation Sans, sans-serif" font-size="12.5" fill="#5c5d66" stroke="#5c5d66" stroke-width="0.2" textLength="20.7" lengthAdjust="spacingAndGlyphs">Jun</text>
<text x="222.6" y="30" font-family="Liberation Sans, sans-serif" font-size="12.5" fill="#5c5d66" stroke="#5c5d66" stroke-width="0.2" textLength="30.4" lengthAdjust="spacingAndGlyphs">2022</text>
<circle cx="861.4" cy="19.9" r="14.85" fill="#3c44a0"/>
<path d="M850.45,25.6 L857.5,18.5 L862.8,24.4 L872.4,15 M867.6,14.8 L872.6,14.8 L872.6,19.6" fill="none" stroke="#eef0fb" stroke-width="1.25" stroke-linejoin="miter"/>
<text x="881.4" y="23.5" font-family="Liberation Sans, sans-serif" font-size="14.3" fill="#2d3344" stroke="#2d3344" stroke-width="0.15" textLength="39.9" lengthAdjust="spacingAndGlyphs">Charts</text>
<text x="925.8" y="23.5" font-family="Liberation Sans, sans-serif" font-size="14.3" fill="#2d3344" stroke="#2d3344" stroke-width="0.15" textLength="53.5" lengthAdjust="spacingAndGlyphs">powered</text>
<text x="984.4" y="23.5" font-family="Liberation Sans, sans-serif" font-size="14.3" fill="#2d3344" stroke="#2d3344" stroke-width="0.15" textLength="13.6" lengthAdjust="spacingAndGlyphs">by</text>
<text x="1003.1" y="23.5" font-family="Liberation Sans, sans-serif" font-size="14.3" fill="#2d3344" stroke="#2d3344" stroke-width="0.15" textLength="101.8" lengthAdjust="spacingAndGlyphs">GoCharting.com</text>
<text x="1108.8" y="23.5" font-family="Liberation Sans, sans-serif" font-size="14.3" fill="#2d3344" stroke="#2d3344" stroke-width="0.15" textLength="4.5" lengthAdjust="spacingAndGlyphs">-</text>
<text x="1117.8" y="23.5" font-family="Liberation Sans, sans-serif" font-size="14.3" fill="#2d3344" stroke="#2d3344" stroke-width="0.15" textLength="49.6" lengthAdjust="spacingAndGlyphs">Created</text>
<text x="1171.9" y="23.5" font-family="Liberation Sans, sans-serif" font-size="14.3" fill="#2d3344" stroke="#2d3344" stroke-width="0.15" textLength="14.2" lengthAdjust="spacingAndGlyphs">by</text>
<text x="1194.4" y="23.5" font-family="Liberation Sans, sans-serif" font-size="14.3" fill="#2d3344" stroke="#2d3344" stroke-width="0.15" textLength="15.5" lengthAdjust="spacingAndGlyphs">on</text>
<text x="1213.8" y="23.5" font-family="Liberation Sans, sans-serif" font-size="14.3" fill="#2d3344" stroke="#2d3344" stroke-width="0.15" textLength="19" lengthAdjust="spacingAndGlyphs">Sat</text>
<text x="1238.3" y="23.5" font-family="Liberation Sans, sans-serif" font-size="14.3" fill="#2d3344" stroke="#2d3344" stroke-width="0.15" textLength="21.9" lengthAdjust="spacingAndGlyphs">Jun</text>
<text x="1265.3" y="23.5" font-family="Liberation Sans, sans-serif" font-size="14.3" fill="#2d3344" stroke="#2d3344" stroke-width="0.15" textLength="13.5" lengthAdjust="spacingAndGlyphs">18</text>
<text x="1283.3" y="23.5" font-family="Liberation Sans, sans-serif" font-size="14.3" fill="#2d3344" stroke="#2d3344" stroke-width="0.15" textLength="29.3" lengthAdjust="spacingAndGlyphs">2022</text>
</svg>
</body></html>
